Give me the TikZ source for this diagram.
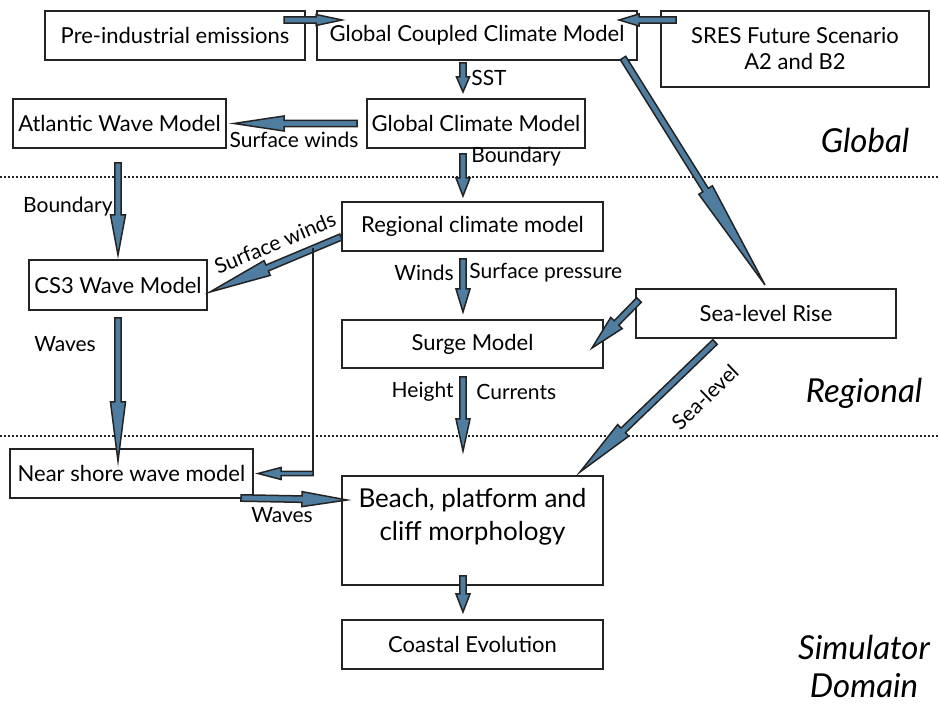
\documentclass[tikz,border=0pt]{standalone}
\usepackage{fontspec}
\setmainfont{Lato}
\usetikzlibrary{calc}
\definecolor{flowblue}{RGB}{79,125,160}
\definecolor{edgegray}{RGB}{35,35,35}

% block arrow: [shaft half width]{start}{end}{head length}{head half width}
\newcommand{\flowarrow}[5][1.6pt]{%
  \path #2 coordinate (fa-s) #3 coordinate (fa-e);
  \coordinate (fa-h) at ($(fa-e)!#4!(fa-s)$);
  \filldraw[arrowbody] ($(fa-s)!#1!90:(fa-e)$) -- ($(fa-h)!#1!90:(fa-e)$)
    -- ($(fa-h)!#5!90:(fa-e)$) -- (fa-e) -- ($(fa-h)!#5!-90:(fa-e)$)
    -- ($(fa-h)!#1!-90:(fa-e)$) -- ($(fa-s)!#1!-90:(fa-e)$) -- cycle;
}

\begin{document}
\begin{tikzpicture}[x=0.5pt, y=-0.5pt,
  box/.style={rectangle, draw=edgegray, line width=1pt, inner sep=0pt, font=\fontsize{11}{13}\selectfont},
  lbl/.style={font=\fontsize{10.5}{12.5}\selectfont, inner sep=0pt},
  level/.style={font=\fontsize{16.5}{19}\selectfont\itshape, align=center, inner sep=0pt},
  arrowbody/.style={fill=flowblue, draw=edgegray, line width=0.75pt, line join=miter},
  sepline/.style={draw=edgegray, line width=1pt, densely dotted}]
\useasboundingbox (0,0) rectangle (939,704);

% Global level
\node[box, minimum width=130pt, minimum height=24.5pt] (pre) at (175,35.5) {Pre-industrial emissions};
\node[box, minimum width=160pt, minimum height=24.5pt] (gccm) at (477,35.5) {Global Coupled Climate Model};
\node[box, minimum width=134pt, minimum height=38pt, align=center] (sres) at (795,49) {SRES Future Scenario\\A2 and B2};
\node[box, minimum width=106.5pt, minimum height=24.5pt] (atl) at (119.5,123.5) {Atlantic Wave Model};
\node[box, minimum width=109pt, minimum height=24.5pt] (gcm) at (476,123.5) {Global Climate Model};

% Regional level
\node[box, minimum width=130.5pt, minimum height=24.5pt] (rcm) at (472.5,226.5) {Regional climate model};
\node[box, minimum width=89pt, minimum height=25pt] (cs3) at (118,285) {CS3 Wave Model};
\node[box, minimum width=130.5pt, minimum height=24pt] (surge) at (472.5,344) {Surge Model};
\node[box, minimum width=130pt, minimum height=24.5pt] (slr) at (766,313.5) {Sea-level Rise};

% Simulator level
\node[box, minimum width=121.5pt, minimum height=24.5pt] (nsw) at (131.5,473.5) {Near shore wave model};
\node[box, minimum width=130.5pt, minimum height=54.5pt] (beach) at (472.5,530.5) {};
\node[align=center, inner sep=0pt, font=\fontsize{13}{16.5}\selectfont] (beachtxt) at (472.5,516.5) {Beach, platform and\\cliff morphology};
\node[box, minimum width=130.5pt, minimum height=24.5pt] (coast) at (472.5,644.5) {Coastal Evolution};

% Domain separators
\draw[sepline] (0,177) -- (939,177);
\draw[sepline] (0,436) -- (939,436);

% Level names
\node[level] (glob) at (865,140) {Global};
\node[level] (regn) at (864,393) {Regional};
\node[level] (simd) at (864,666) {Simulator\\Domain};

% Connections
\flowarrow{([shift={(-22,10)}]pre.north east)}{([shift={(26,10)}]gccm.north west)}{13pt}{2.75pt}
\flowarrow{([shift={(16,10)}]sres.north west)}{([shift={(-19,10)}]gccm.north east)}{10pt}{3pt}
\flowarrow{([shift={(-14,2)}]gccm.south)}{([shift={(-13,-6)}]gcm.north)}{7.5pt}{3.25pt}
\flowarrow{([shift={(-9,0)}]gcm.west)}{([shift={(7,0)}]atl.east)}{25pt}{3.75pt}
\flowarrow{([shift={(-13,5)}]gcm.south)}{([shift={(-9.5,-5)}]rcm.north)}{9pt}{3.5pt}
\flowarrow{([shift={(-1.5,14)}]atl.south)}{([shift={(0,-4)}]cs3.north)}{20pt}{3.75pt}
\flowarrow{([shift={(0,10.5)}]rcm.west)}{([shift={(2,7)}]cs3.east)}{31pt}{4pt}
\flowarrow{([shift={(-9.5,7)}]rcm.south)}{([shift={(-9.5,-7)}]surge.north)}{11.5pt}{3.5pt}
\flowarrow{([shift={(-9.5,8)}]surge.south)}{([shift={(-9.5,-24)}]beach.north)}{16pt}{3.5pt}
\flowarrow{([shift={(0,7)}]cs3.south)}{([shift={(-13.5,13)}]nsw.north)}{29.5pt}{3.75pt}
\coordinate (windsplit) at ([shift={(-28,22)}]rcm.west);
\draw[edgegray, line width=1pt] (windsplit) -- (windsplit |- nsw.east);
\flowarrow[1.1pt]{(windsplit |- nsw.east)}{([shift={(4,0)}]nsw.east)}{11.5pt}{3pt}
\flowarrow{([shift={(-15,-3)}]gccm.south east)}{([shift={(-1,-3)}]slr.north)}{56pt}{4pt}
\flowarrow{([shift={(4,-13.5)}]slr.west)}{([shift={(-12,4)}]surge.east)}{17.5pt}{4pt}
\flowarrow{([shift={(-51,3)}]slr.south)}{([shift={(-24,-3)}]beach.north east)}{30pt}{4pt}
\flowarrow{([shift={(-13,-1)}]nsw.south east)}{([shift={(6,25)}]beach.north west)}{22.5pt}{3.75pt}
\flowarrow{([shift={(-9.5,-10)}]beach.south)}{([shift={(-9.5,-7)}]coast.north)}{9pt}{3.5pt}

% Connector labels
\node[lbl, anchor=west] (sst) at (471,78) {SST};
\node[lbl] (gwinds) at (294,140) {Surface winds};
\node[lbl, anchor=west] (gbound) at (471,157) {Boundary};
\node[lbl, anchor=east] (abound) at (113,207) {Boundary};
\node[lbl, rotate=22.5] (rwinds) at (275,243) {Surface winds};
\node[lbl, anchor=east] (winds) at (454,273) {Winds};
\node[lbl, anchor=west] (spress) at (469,273) {Surface pressure};
\node[lbl, anchor=east] (height) at (454,392) {Height};
\node[lbl, anchor=west] (curr) at (476,392) {Currents};
\node[lbl] (cwaves) at (65,344) {Waves};
\node[lbl] (nwaves) at (282,515) {Waves};
\node[lbl, rotate=44] (slevel) at (705,397) {Sea-level};
\end{tikzpicture}
\end{document}
